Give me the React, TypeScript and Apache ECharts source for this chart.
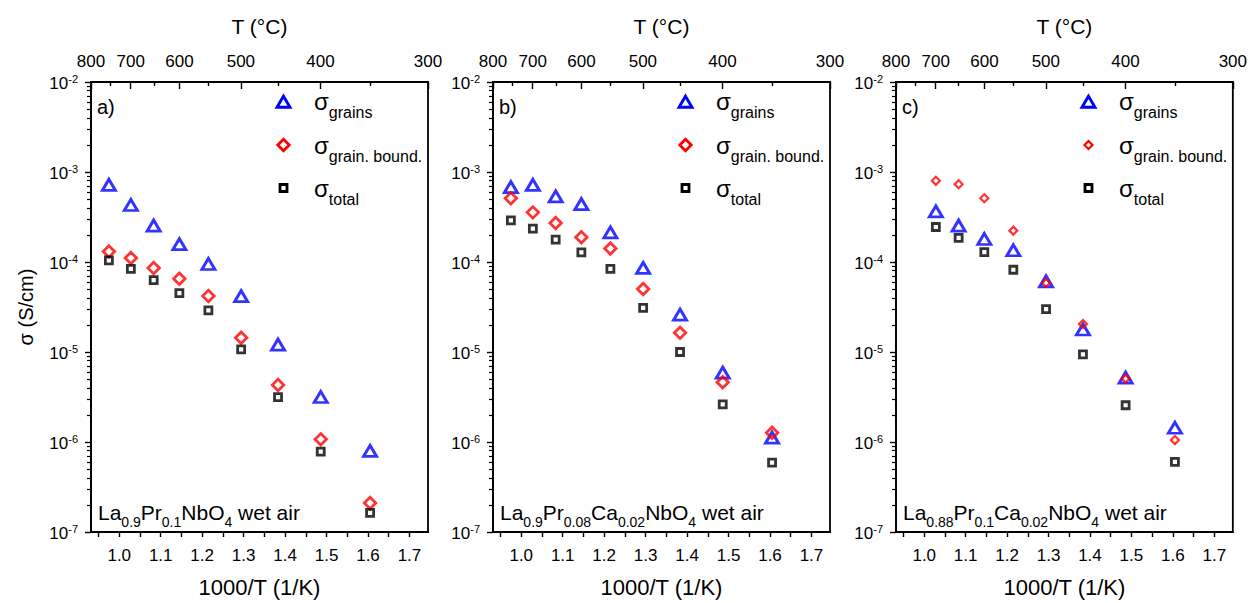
import React, { useEffect, useRef } from "react";
import * as echarts from "echarts";

// ---------- data ----------
// 1000/T (1/K) of the measurement points (750 ... 350 °C)
const invT = [0.975, 1.028, 1.083, 1.145, 1.215, 1.294, 1.383, 1.486, 1.605];
// panel c starts at 700 °C
const invTc = [1.028, 1.083, 1.145, 1.215, 1.294, 1.383, 1.486, 1.605];

const aGrains = [7.2e-4, 4.3e-4, 2.54e-4, 1.58e-4, 9.5e-5, 4.17e-5, 1.21e-5, 3.16e-6, 7.96e-7];
const aGrainBound = [1.31e-4, 1.11e-4, 8.6e-5, 6.5e-5, 4.2e-5, 1.44e-5, 4.3e-6, 1.07e-6, 2.1e-7];
const aTotal = [1.04e-4, 8.4e-5, 6.3e-5, 4.5e-5, 2.9e-5, 1.07e-5, 3.16e-6, 7.8e-7, 1.63e-7];

const bGrains = [6.8e-4, 7.2e-4, 5.35e-4, 4.4e-4, 2.13e-4, 8.6e-5, 2.6e-5, 5.9e-6, 1.12e-6];
const bGrainBound = [5.1e-4, 3.56e-4, 2.71e-4, 1.88e-4, 1.41e-4, 5.0e-5, 1.64e-5, 4.6e-6, 1.27e-6];
const bTotal = [2.9e-4, 2.35e-4, 1.77e-4, 1.28e-4, 8.4e-5, 3.1e-5, 1.0e-5, 2.62e-6, 5.9e-7];

const cGrains = [3.65e-4, 2.54e-4, 1.8e-4, 1.35e-4, 6.1e-5, 1.78e-5, 5.2e-6, 1.44e-6];
const cGrainBound = [7.98e-4, 7.3e-4, 5.1e-4, 2.23e-4, 5.86e-5, 2.05e-5, 5.06e-6, 1.05e-6];
const cTotal = [2.45e-4, 1.85e-4, 1.29e-4, 8.2e-5, 3.0e-5, 9.4e-6, 2.56e-6, 6.0e-7];

// tick labels
const bottomLabels = [1.0, 1.1, 1.2, 1.3, 1.4, 1.5, 1.6, 1.7];
const bottomTicks = [0.95, 1.0, 1.05, 1.1, 1.15, 1.2, 1.25, 1.3, 1.35, 1.4, 1.45, 1.5, 1.55, 1.6, 1.65, 1.7];
const topTempLabels = [800, 700, 600, 500, 400, 300];
const topTempMinor = [750, 650, 550, 450, 350];
const yMinExp = -7;
const yMaxExp = -2;

const panelLetters = ["a)", "b)", "c)"];
const panelFormulas = [
  "{n|La}{s|0.9}{n|Pr}{s|0.1}{n|NbO}{s|4}{n| wet air}",
  "{n|La}{s|0.9}{n|Pr}{s|0.08}{n|Ca}{s|0.02}{n|NbO}{s|4}{n| wet air}",
  "{n|La}{s|0.88}{n|Pr}{s|0.1}{n|Ca}{s|0.02}{n|NbO}{s|4}{n| wet air}",
];
const legendSubs = ["grains", "grain. bound.", "total"];

// ---------- layout / style ----------
const FONT = '"Liberation Sans", Arial, Helvetica, sans-serif';
const PANEL_LEFT = [91, 493, 896];
const PLOT_TOP = 82;
const PLOT_W = 337;
const PLOT_H = 451;
const LINE_W = 1.8;
const BLUE = "#0000ff";
const RED = "#ff0000";
const BLACK = "#000000";

const toInv = (t: number) => 1000 / (t + 273.15);
const X_MIN = toInv(800);
const X_MAX = toInv(300);

const yMinorExps: number[] = [];
for (let e = yMinExp; e < yMaxExp; e++) {
  for (let k = 2; k <= 9; k++) yMinorExps.push(e + Math.log10(k));
}

const zip = (xs: number[], ys: number[]) => xs.map((x, i) => [x, ys[i]]);

const panels = [
  { x: invT, grains: aGrains, gb: aGrainBound, total: aTotal, diamond: 11.5, diamondW: 2.8 },
  { x: invT, grains: bGrains, gb: bGrainBound, total: bTotal, diamond: 11.5, diamondW: 2.8 },
  { x: invTc, grains: cGrains, gb: cGrainBound, total: cTotal, diamond: 8, diamondW: 2.2 },
];

const TRI: [number, number] = [13, 11];
const TRI_W = 2.9;
const SQ = 7;
const SQ_W = 2.8;

function buildOption() {
  const grid: any[] = [];
  const xAxis: any[] = [];
  const yAxis: any[] = [];
  const series: any[] = [];
  const graphic: any[] = [];

  const axisLineStyle = { color: BLACK, width: LINE_W };
  const tickStyle = { color: BLACK, width: 1.4 };
  const labelBase = { color: BLACK, fontFamily: FONT, fontSize: 17 };

  panels.forEach((p, i) => {
    const PL = PANEL_LEFT[i];
    grid.push({
      left: PL,
      top: PLOT_TOP,
      width: PLOT_W,
      height: PLOT_H,
      show: true,
      borderColor: BLACK,
      borderWidth: LINE_W,
      backgroundColor: "transparent",
    });

    // bottom axis 1000/T
    xAxis.push({
      gridIndex: i,
      type: "value",
      position: "bottom",
      min: X_MIN,
      max: X_MAX,
      axisLine: { show: true, onZero: false, lineStyle: axisLineStyle },
      axisTick: { show: true, inside: false, length: 5, customValues: bottomTicks, lineStyle: tickStyle },
      axisLabel: {
        ...labelBase,
        customValues: bottomLabels,
        formatter: (v: number) => v.toFixed(1),
        margin: 15,
      },
      splitLine: { show: false },
      name: "1000/T (1/K)",
      nameLocation: "middle",
      nameGap: 44,
      nameTextStyle: { color: BLACK, fontFamily: FONT, fontSize: 22 },
    });
    // top axis T (°C), major ticks + labels
    xAxis.push({
      gridIndex: i,
      type: "value",
      position: "top",
      min: X_MIN,
      max: X_MAX,
      axisLine: { show: true, onZero: false, lineStyle: axisLineStyle },
      axisTick: { show: true, inside: true, length: 7, customValues: topTempLabels.map(toInv), lineStyle: tickStyle },
      axisLabel: {
        ...labelBase,
        customValues: topTempLabels.map(toInv),
        formatter: (v: number) => String(Math.round(1000 / v - 273.15)),
        margin: 12.5,
      },
      splitLine: { show: false },
      name: "T (°C)",
      nameLocation: "middle",
      nameGap: 45.5,
      nameTextStyle: { color: BLACK, fontFamily: FONT, fontSize: 21 },
    });
    // top axis minor ticks
    xAxis.push({
      gridIndex: i,
      type: "value",
      position: "top",
      offset: 0,
      min: X_MIN,
      max: X_MAX,
      axisLine: { show: false, onZero: false },
      axisTick: { show: true, inside: true, length: 4, customValues: topTempMinor.map(toInv), lineStyle: tickStyle },
      axisLabel: { show: false },
      splitLine: { show: false },
    });

    // log y axis
    yAxis.push({
      gridIndex: i,
      type: "log",
      logBase: 10,
      position: "left",
      min: Math.pow(10, yMinExp),
      max: Math.pow(10, yMaxExp),
      axisLine: { show: true, onZero: false, lineStyle: axisLineStyle },
      axisTick: { show: true, inside: false, length: 6, lineStyle: tickStyle },
      minorTick: { show: false },
      splitLine: { show: false },
      axisLabel: {
        margin: 13,
        formatter: (v: number) => `{b|10}{p|${Math.round(Math.log10(v))}}`,
        rich: {
          b: { fontSize: 17, lineHeight: 17, fontFamily: FONT, color: BLACK, verticalAlign: "top", padding: [1, 0, 0, 0] },
          p: { fontSize: 11, lineHeight: 11, fontFamily: FONT, color: BLACK, verticalAlign: "top" },
        },
      },
      name: i === 0 ? "σ (S/cm)" : "",
      nameLocation: "middle",
      nameGap: 55,
      nameTextStyle: { color: BLACK, fontFamily: FONT, fontSize: 20 },
    });
    // minor ticks of the log axis (in decade units)
    yAxis.push({
      gridIndex: i,
      type: "value",
      position: "left",
      offset: 0,
      min: yMinExp,
      max: yMaxExp,
      axisLine: { show: false, onZero: false },
      axisTick: { show: true, inside: false, length: 4, customValues: yMinorExps, lineStyle: { color: BLACK, width: 1.2 } },
      axisLabel: { show: false },
      splitLine: { show: false },
    });

    const common = { xAxisIndex: 3 * i, yAxisIndex: 2 * i, type: "scatter", emphasis: { disabled: true } };
    series.push({
      ...common,
      name: `σ grains ${panelLetters[i]}`,
      data: zip(p.x, p.grains),
      symbol: "triangle",
      symbolSize: TRI,
      itemStyle: { color: "rgba(255,255,255,0)", borderColor: BLUE, borderWidth: TRI_W },
      z: 2,
    });
    series.push({
      ...common,
      name: `σ grain. bound. ${panelLetters[i]}`,
      data: zip(p.x, p.gb),
      symbol: "diamond",
      symbolSize: p.diamond,
      itemStyle: { color: "rgba(255,255,255,0)", borderColor: RED, borderWidth: p.diamondW },
      z: 3,
    });
    series.push({
      ...common,
      name: `σ total ${panelLetters[i]}`,
      data: zip(p.x, p.total),
      symbol: "rect",
      symbolSize: SQ,
      itemStyle: { color: "rgba(255,255,255,0)", borderColor: BLACK, borderWidth: SQ_W },
      z: 4,
    });

    // panel letter
    graphic.push({
      type: "text",
      x: PL + 6,
      y: 107,
      style: { text: panelLetters[i], fontSize: 20, fontFamily: FONT, fill: BLACK, verticalAlign: "middle" },
      z: 10,
    });
    // composition
    graphic.push({
      type: "text",
      x: PL + 7,
      y: 502.2,
      style: {
        text: panelFormulas[i],
        verticalAlign: "top",
        fill: BLACK,
        rich: {
          n: { fontSize: 21, lineHeight: 21, fontFamily: FONT, fill: BLACK, verticalAlign: "top" },
          s: { fontSize: 14, lineHeight: 14, fontFamily: FONT, fill: BLACK, verticalAlign: "top", padding: [13, 0, 0, 0] },
        },
      },
      z: 10,
    });

    // legend
    const cx = PL + 192.5;
    const rows = [101.7, 145, 188];
    const [h, w] = [TRI[1], TRI[0]];
    graphic.push({
      type: "polygon",
      shape: { points: [[cx, rows[0] - h / 2], [cx + w / 2, rows[0] + h / 2], [cx - w / 2, rows[0] + h / 2]] },
      style: { fill: "none", stroke: BLUE, lineWidth: TRI_W },
      z: 10,
    });
    const d = p.diamond / 2;
    graphic.push({
      type: "polygon",
      shape: { points: [[cx, rows[1] - d], [cx + d, rows[1]], [cx, rows[1] + d], [cx - d, rows[1]]] },
      style: { fill: "none", stroke: RED, lineWidth: p.diamondW },
      z: 10,
    });
    graphic.push({
      type: "rect",
      shape: { x: cx - SQ / 2, y: rows[2] - SQ / 2, width: SQ, height: SQ },
      style: { fill: "none", stroke: BLACK, lineWidth: SQ_W },
      z: 10,
    });
    legendSubs.forEach((sub, r) => {
      graphic.push({
        type: "text",
        x: PL + 223,
        y: rows[r] - 11.8,
        style: {
          text: `{s|σ}{sub|${sub}}`,
          verticalAlign: "top",
          fill: BLACK,
          rich: {
            s: { fontSize: 24, lineHeight: 24, fontFamily: FONT, fill: BLACK, verticalAlign: "top" },
            sub: { fontSize: 16, lineHeight: 16, fontFamily: FONT, fill: BLACK, verticalAlign: "top", padding: [15, 0, 0, 0] },
          },
        },
        z: 10,
      });
    });
  });

  return {
    animation: false,
    backgroundColor: "#ffffff",
    grid,
    xAxis,
    yAxis,
    series,
    graphic,
  };
}

export default function App() {
  const ref = useRef<HTMLDivElement>(null);
  useEffect(() => {
    if (!ref.current) return;
    const chart = echarts.init(ref.current, undefined, { renderer: "svg" });
    chart.setOption(buildOption() as any);
    return () => chart.dispose();
  }, []);
  return (
    <div
      ref={ref}
      style={{ position: "absolute", left: 0, top: 0, width: 1250, height: 603, background: "#fff" }}
    />
  );
}
